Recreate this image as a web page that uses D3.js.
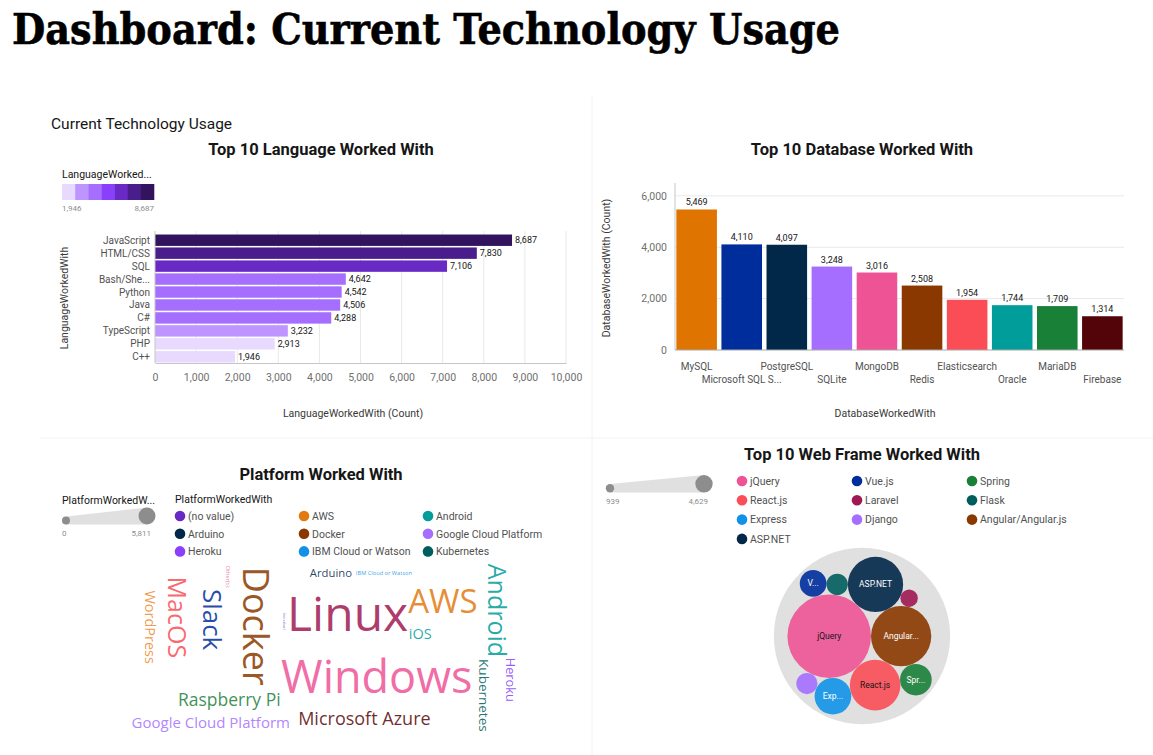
<!DOCTYPE html>
<html><head><meta charset="utf-8">
<script src="https://cdn.jsdelivr.net/npm/d3@7"></script>
<style>body{margin:0;background:#fff;} svg{display:block;}</style>
</head><body><svg id="c" width="1153" height="755"></svg>
<script>
// ---------- DATA ----------
const languages = ["JavaScript","HTML/CSS","SQL","Bash/Shell/PowerShell","Python","Java","C#","TypeScript","PHP","C++"];
const languageCounts = [8687,7830,7106,4642,4542,4506,4288,3232,2913,1946];
const languageTicks = [0,1000,2000,3000,4000,5000,6000,7000,8000,9000,10000];
const languageColorThresholds = [3000,4000,5000,6000,7500,8000];

const databases = ["MySQL","Microsoft SQL Server","PostgreSQL","SQLite","MongoDB","Redis","Elasticsearch","Oracle","MariaDB","Firebase"];
const databaseCounts = [5469,4110,4097,3248,3016,2508,1954,1744,1709,1314];
const databaseTicks = [0,2000,4000,6000];

const platforms = ["Linux","Windows","Docker","AWS","Slack","Android","MacOS","Microsoft Azure","Raspberry Pi","Google Cloud Platform","WordPress","iOS","Kubernetes","Heroku","Arduino","IBM Cloud or Watson","Other(s):","(no value)"];
const platformCounts = [5811,5424,4261,3874,2970,2841,2841,1937,1872,1550,1485,1485,1356,1265,1072,349,336,77];
const platformRotated = ["Docker","Slack","Android","MacOS","WordPress","Kubernetes","Heroku","Other(s):","(no value)"];

const webFrames = ["jQuery","Vue.js","Spring","React.js","Laravel","Flask","Express","Django","Angular/Angular.js","ASP.NET"];
const webFrameCounts = [4629,1460,1730,2790,939,1160,2010,1150,3327,3050];
const webFramePackOrder = ["jQuery","Angular/Angular.js","ASP.NET","React.js","Express","Flask","Spring","Laravel","Vue.js","Django"];

// ---------- STYLE ----------
const purpleRamp = ["#e8daff","#be95ff","#a56eff","#8a3ffc","#6929c4","#491d8b","#31135e"];
const databaseColors = ["#df7500","#002d9c","#012749","#a56eff","#ee5396","#8a3800","#fa4d56","#009d9a","#198038","#520408"];
const platformColors = ["#9f1853","#ee5396","#8a3800","#e27a10","#002d9c","#009d9a","#fa4d56","#570408","#198038","#a56eff","#ee8a30","#009d9a","#005d5d","#8a3ffc","#012749","#1192e8","#e0708f","#6929c4"];
const webFrameColors = ["#ee5396","#002d9c","#198038","#fa4d56","#9f1853","#005d5d","#1192e8","#a56eff","#8a3800","#012749"];

const UI = "Roboto, 'Noto Sans', sans-serif";
const svg = d3.select("#c");
const fmt = d3.format(",");

function truncate(sel, full, maxW) {
  sel.text(full);
  if (sel.node().getComputedTextLength() <= maxW) return true;
  for (let n = full.length - 1; n >= 1; n--) {
    sel.text(full.slice(0, n) + "...");
    if (sel.node().getComputedTextLength() <= maxW) return true;
  }
  sel.text("");
  return false;
}

// faint panel dividers
svg.append("line").attr("x1",592).attr("x2",592).attr("y1",95).attr("y2",755).attr("stroke","#f2f2f2");
svg.append("line").attr("x1",40).attr("x2",1153).attr("y1",438).attr("y2",438).attr("stroke","#f2f2f2");

// main title
svg.append("text").attr("x",12).attr("y",44)
  .attr("font-family","'DejaVu Serif', serif").attr("font-weight","bold").attr("font-size",42)
  .attr("textLength",828).attr("lengthAdjust","spacingAndGlyphs").attr("fill","#000")
  .attr("stroke","#000").attr("stroke-width",0.6)
  .text("Dashboard: Current Technology Usage");

svg.append("text").attr("x",51).attr("y",129).attr("font-family",UI).attr("font-size",15.5)
  .attr("fill","#161616").text("Current Technology Usage");

function chartTitle(x, y, t) {
  svg.append("text").attr("x",x).attr("y",y).attr("text-anchor","middle")
    .attr("font-family",UI).attr("font-weight","bold").attr("font-size",16.5).attr("fill","#161616").text(t);
}

// ---------- CHART 1: languages ----------
{
  chartTitle(321, 155, "Top 10 Language Worked With");
  const x = d3.scaleLinear().domain([0,10000]).range([155,566]);
  const y = d3.scaleBand().domain(languages).range([234,363]).paddingInner(0.12).paddingOuter(0.04);
  const color = d3.scaleThreshold().domain(languageColorThresholds).range(purpleRamp);
  const g = svg.append("g");
  g.selectAll("line.grid").data(languageTicks.slice(1)).join("line")
    .attr("x1",d=>x(d)).attr("x2",d=>x(d)).attr("y1",231).attr("y2",363).attr("stroke","#e8e8e8");
  g.selectAll("rect").data(languages).join("rect")
    .attr("x",x(0)).attr("y",d=>y(d)).attr("height",y.bandwidth())
    .attr("width",(d,i)=>x(languageCounts[i])-x(0)).attr("fill",(d,i)=>color(languageCounts[i]));
  g.selectAll("text.val").data(languages).join("text")
    .attr("x",(d,i)=>x(languageCounts[i])+3).attr("y",d=>y(d)+y.bandwidth()/2+3.2)
    .attr("font-family",UI).attr("font-size",9).attr("fill","#161616").text((d,i)=>fmt(languageCounts[i]));
  g.selectAll("text.cat").data(languages).join("text")
    .attr("x",150).attr("y",d=>y(d)+y.bandwidth()/2+3.5).attr("text-anchor","end")
    .attr("font-family",UI).attr("font-size",10).attr("fill","#525252")
    .each(function(d){ truncate(d3.select(this), d, 52); });
  const ax = d3.axisBottom(x).tickValues(languageTicks).tickFormat(fmt).tickSize(0).tickPadding(11);
  const axg = svg.append("g").attr("transform","translate(0,363)").call(ax);
  axg.select(".domain").attr("stroke","#c6c6c6");
  axg.selectAll("text").attr("font-family",UI).attr("font-size",10.5).attr("fill","#6f6f6f");
  svg.append("line").attr("x1",155).attr("x2",155).attr("y1",231).attr("y2",363).attr("stroke","#c6c6c6");
  svg.append("text").attr("x",353).attr("y",417).attr("text-anchor","middle").attr("font-family",UI)
    .attr("font-size",10.5).attr("fill","#393939").text("LanguageWorkedWith (Count)");
  svg.append("text").attr("transform","translate(68,298) rotate(-90)").attr("text-anchor","middle")
    .attr("font-family",UI).attr("font-size",10.5).attr("fill","#393939").text("LanguageWorkedWith");
  // color legend
  const lt = svg.append("text").attr("x",62).attr("y",178).attr("font-family",UI).attr("font-size",10.5).attr("fill","#161616");
  truncate(lt, "LanguageWorkedWith", 95);
  const sw = d3.scaleBand().domain(d3.range(purpleRamp.length)).range([62,154]);
  svg.selectAll("rect.sw").data(purpleRamp).join("rect").attr("class","sw")
    .attr("x",(d,i)=>sw(i)).attr("y",184).attr("width",sw.bandwidth()+0.3).attr("height",16).attr("fill",d=>d);
  const ext = d3.extent(languageCounts);
  svg.append("text").attr("x",62).attr("y",211).attr("font-family",UI).attr("font-size",8).attr("fill","#8d8d8d").text(fmt(ext[0]));
  svg.append("text").attr("x",154).attr("y",211).attr("text-anchor","end").attr("font-family",UI).attr("font-size",8).attr("fill","#8d8d8d").text(fmt(ext[1]));
}

// ---------- CHART 2: databases ----------
{
  chartTitle(862, 155, "Top 10 Database Worked With");
  const x = d3.scaleBand().domain(databases).range([675,1124]).paddingInner(0.1).paddingOuter(0.03);
  const y = d3.scaleLinear().domain([0,6500]).range([350,183]);
  const g = svg.append("g");
  g.selectAll("line.grid").data(databaseTicks.slice(1)).join("line")
    .attr("x1",675).attr("x2",1124).attr("y1",d=>y(d)).attr("y2",d=>y(d)).attr("stroke","#e8e8e8");
  g.selectAll("rect").data(databases).join("rect")
    .attr("x",d=>x(d)).attr("width",x.bandwidth())
    .attr("y",(d,i)=>y(databaseCounts[i])).attr("height",(d,i)=>y(0)-y(databaseCounts[i]))
    .attr("fill",(d,i)=>databaseColors[i]);
  g.selectAll("text.val").data(databases).join("text")
    .attr("x",d=>x(d)+x.bandwidth()/2).attr("y",(d,i)=>y(databaseCounts[i])-4).attr("text-anchor","middle")
    .attr("font-family",UI).attr("font-size",9).attr("fill","#161616").text((d,i)=>fmt(databaseCounts[i]));
  g.selectAll("text.cat").data(databases).join("text")
    .attr("x",d=>x(d)+x.bandwidth()/2).attr("y",(d,i)=> i%2===0 ? 370 : 383).attr("text-anchor","middle")
    .attr("font-family",UI).attr("font-size",10).attr("fill","#525252")
    .each(function(d){ truncate(d3.select(this), d, 2*x.step()-6); });
  const ay = d3.axisLeft(y).tickValues(databaseTicks).tickFormat(fmt).tickSize(0).tickPadding(8);
  const ayg = svg.append("g").attr("transform","translate(675,0)").call(ay);
  ayg.select(".domain").remove();
  ayg.selectAll("text").attr("font-family",UI).attr("font-size",10.5).attr("fill","#6f6f6f");
  svg.append("line").attr("x1",675).attr("x2",675).attr("y1",183).attr("y2",350).attr("stroke","#c6c6c6");
  svg.append("line").attr("x1",675).attr("x2",1124).attr("y1",350).attr("y2",350).attr("stroke","#a8a8a8");
  svg.append("text").attr("x",885).attr("y",417).attr("text-anchor","middle").attr("font-family",UI)
    .attr("font-size",10.5).attr("fill","#393939").text("DatabaseWorkedWith");
  svg.append("text").attr("transform","translate(610,268) rotate(-90)").attr("text-anchor","middle")
    .attr("font-family",UI).attr("font-size",10.5).attr("fill","#393939").text("DatabaseWorkedWith (Count)");
}

// size legend helper
function sizeLegend(x0, x1, yb, rmin, rmax, title, tx, lo, hi, titleW) {
  if (title) {
    const t = svg.append("text").attr("x",tx).attr("y",yb-21).attr("font-family",UI).attr("font-size",10.5).attr("fill","#161616");
    truncate(t, title, titleW);
  }
  svg.append("path").attr("d", d3.line()([[x0,yb-2*rmin],[x1,yb-2*rmax],[x1,yb],[x0,yb]]) + "Z").attr("fill","#e0e0e0");
  svg.append("circle").attr("cx",x0).attr("cy",yb-rmin).attr("r",rmin).attr("fill","#8d8d8d");
  svg.append("circle").attr("cx",x1).attr("cy",yb-rmax).attr("r",rmax).attr("fill","#8d8d8d");
  svg.append("text").attr("x",x0-4).attr("y",yb+11).attr("font-family",UI).attr("font-size",8).attr("fill","#8d8d8d").text(lo);
  svg.append("text").attr("x",x1+4).attr("y",yb+11).attr("text-anchor","end").attr("font-family",UI).attr("font-size",8).attr("fill","#8d8d8d").text(hi);
}

function colorLegend(names, colors, xs, y0, dy) {
  names.forEach((n,i)=>{
    const cx = xs[i%xs.length], cy = y0 + Math.floor(i/xs.length)*dy;
    svg.append("circle").attr("cx",cx).attr("cy",cy).attr("r",5.3).attr("fill",colors[i]);
    svg.append("text").attr("x",cx+8).attr("y",cy+3.8).attr("font-family",UI).attr("font-size",10.5).attr("fill","#525252").text(n);
  });
}

// ---------- CHART 3: platform word cloud ----------
{
  chartTitle(321, 480, "Platform Worked With");
  sizeLegend(66, 147, 524.5, 4, 8.5, "PlatformWorkedWith", 62, "0", fmt(d3.max(platformCounts)), 96);
  svg.append("text").attr("x",175).attr("y",503).attr("font-family",UI).attr("font-size",10.5).attr("fill","#161616").text("PlatformWorkedWith");
  const idx = d3.range(platforms.length).sort((a,b)=>d3.ascending(platforms[a],platforms[b])).slice(0,9);
  colorLegend(idx.map(i=>platforms[i]), idx.map(i=>platformColors[i]), [180,304,428], 516, 17.7);

  const fs = d3.scaleLinear().domain([0, d3.max(platformCounts)]).range([3, 48]);
  const B = {x0:126, x1:524, y0:562, y1:736, cx:345, cy:612};
  const ratio = (B.x1-B.x0)/(B.y1-B.y0);
  const g = svg.append("g").attr("font-family","'Open Sans', sans-serif").attr("fill-opacity",0.86);
  const placed = [];
  const order = d3.range(platforms.length).sort((a,b)=>platformCounts[b]-platformCounts[a]);
  const items = [];
  order.forEach(i=>{
    const name = platforms[i], size = fs(platformCounts[i]);
    const rot = platformRotated.includes(name);
    const t = g.append("text").attr("font-size",size).attr("text-anchor","middle").attr("fill",platformColors[i]).text(name);
    t.attr("x",0).attr("y",0);
    const bb = t.node().getBBox();
    const len = bb.width;
    const fullAsc = -bb.y, fullDesc = bb.y + bb.height;
    const tAsc = (/[A-Zbdfhiklt(]/.test(name) ? 0.85 : 0.65)*size;
    const tDesc = (/[gjpqy(),]/.test(name) ? 0.28 : 0.08)*size;
    const tryPlace = (asc, desc) => {
      const thick = asc+desc, bOff = (asc-desc)/2;
      const bw = rot ? thick : len, bh = rot ? len : thick;
      for (let k=0; k<80000; k++) {
        const a = k*0.04, r = a*0.3;
        const cx = B.cx + ratio*r*Math.cos(a), cy = B.cy + r*Math.sin(a);
        if (r > 300) break;
        const box = {l:cx-bw/2, r:cx+bw/2, t:cy-bh/2, b:cy+bh/2};
        if (box.l < B.x0 || box.r > B.x1 || box.t < B.y0 || box.b > B.y1) continue;
        if (placed.some(p => !(box.r <= p.l || box.l >= p.r || box.b <= p.t || box.t >= p.b))) continue;
        placed.push(box);
        return {cx, cy, bOff};
      }
      return null;
    };
    const pos = tryPlace(fullAsc, fullDesc) || tryPlace(tAsc, tDesc) || {cx:B.cx, cy:B.cy, bOff:0};
    items.push({t, rot, pos});
  });
  items.forEach(({t, rot, pos})=>{
    if (rot) t.attr("transform",`translate(${pos.cx},${pos.cy}) rotate(90)`).attr("x",0).attr("y",pos.bOff);
    else t.attr("x",pos.cx).attr("y",pos.cy+pos.bOff);
  });
  const u = g.node().getBBox();
  g.attr("transform",`translate(${326-(u.x+u.width/2)},${648-(u.y+u.height/2)})`);
}

// ---------- CHART 4: web frameworks bubbles ----------
{
  chartTitle(862, 460, "Top 10 Web Frame Worked With");
  const ext = d3.extent(webFrameCounts);
  sizeLegend(610, 704, 492.5, 4.2, 8.7, null, 0, fmt(ext[0]), fmt(ext[1]));
  colorLegend(webFrames, webFrameColors, [742,857,972], 481, 19.3);
  const r = d3.scaleLinear().domain(ext).range([8.7, 41.8]);
  const nodes = webFramePackOrder.map(n=>{ const i = webFrames.indexOf(n);
    return {name:n, v:webFrameCounts[i], c:webFrameColors[i], r:r(webFrameCounts[i])}; });
  d3.packSiblings(nodes);
  const enc = d3.packEnclose(nodes);
  const CX = 862, CY = 636;
  const g = svg.append("g").attr("transform",`translate(${CX},${CY})`);
  g.append("circle").attr("r",enc.r+3).attr("fill","#e0e0e0");
  const ng = g.selectAll("g.n").data(nodes).join("g").attr("transform",d=>`translate(${d.x-enc.x},${-(d.y-enc.y)})`);
  ng.append("circle").attr("r",d=>d.r).attr("fill",d=>d.c).attr("fill-opacity",0.9);
  ng.append("text").attr("text-anchor","middle").attr("y",3).attr("font-family",UI).attr("font-size",8.5)
    .attr("fill",d=>d3.hsl(d.c).l<0.55 ? "#fff" : "#161616")
    .each(function(d){ if (d.r < 11) return; truncate(d3.select(this), d.name, 1.21*d.r); });
}
</script></body></html>
